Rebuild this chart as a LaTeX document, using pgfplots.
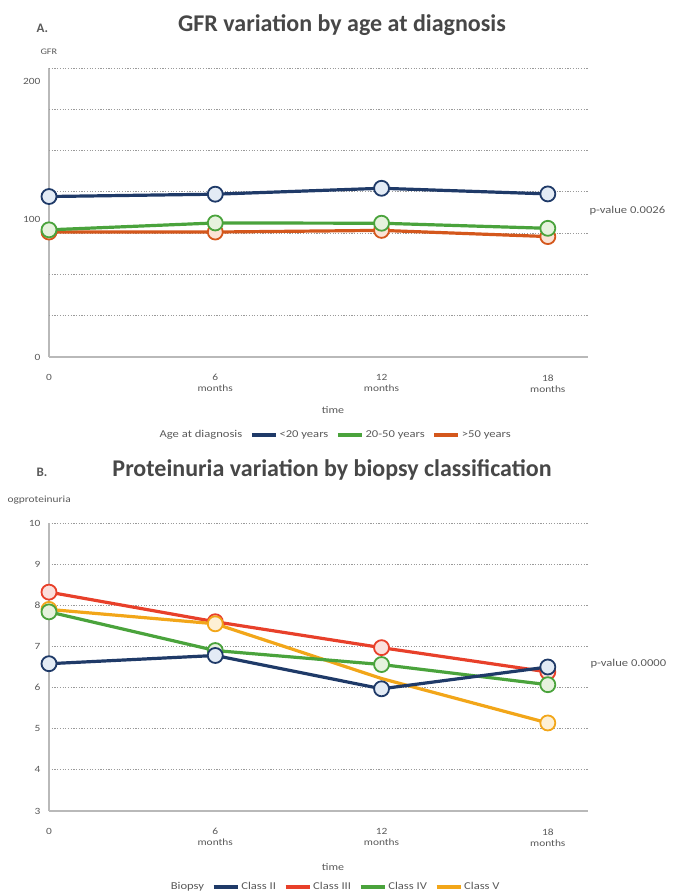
\documentclass[border=0pt]{standalone}
\usepackage{pgfplots}
\pgfplotsset{compat=1.18}
\usepackage{fontspec}
\setmainfont{Carlito}
\newfontfamily\wfont[FakeStretch=1.2]{Carlito}

\definecolor{navy}{HTML}{1F3A68}
\definecolor{navyfill}{HTML}{E3EBF5}
\definecolor{grnA}{HTML}{4AA33C}
\definecolor{grnfill}{HTML}{E6F2DD}
\definecolor{orgA}{HTML}{D4571C}
\definecolor{orgfill}{HTML}{FBE3D6}
\definecolor{redB}{HTML}{E8402A}
\definecolor{redfill}{HTML}{FBE0DC}
\definecolor{yelB}{HTML}{F2A619}
\definecolor{yelfill}{HTML}{FDF0D5}
\definecolor{txt}{HTML}{595959}
\definecolor{gridc}{HTML}{9A9A9A}

\pgfplotsset{
  panel/.style={
    scale only axis, width=539pt,
    xmin=0, xmax=19.45,
    axis x line=bottom, axis y line=left,
    axis line style={-, draw=gray!55, line width=1.2pt},
    xtick={0,6,12,18},
    xticklabels={0\\\phantom{months}, 6\\months, 12\\months, 18\\months},
    xticklabel style={align=center, font=\wfont\fontsize{9.5}{11}\selectfont, text=txt, anchor=north, yshift=-14pt},
    yticklabel style={font=\wfont\fontsize{9.5}{11}\selectfont, text=txt, xshift=-5pt},
    major tick length=0pt,
    grid style={draw=gridc, dash pattern=on 1.2pt off 1.5pt, line width=0.9pt},
    clip=false,
    legend style={draw=none, fill=none, anchor=center, legend columns=-1,
      font=\wfont\fontsize{10.5}{12}\selectfont, text=txt,
      /tikz/every even column/.append style={column sep=6pt}},
    legend image code/.code={\draw[#1, line width=3.2pt] (0pt,0pt) -- (24pt,0pt);},
  },
  ser/.style n args={2}{#1, line width=3.2pt, mark=*, mark size=7.5pt,
    mark options={fill=#2, draw=#1, line width=1.8pt, solid}},
}

\begin{document}
\begin{tikzpicture}
\path[use as bounding box] (0pt,0pt) rectangle (675pt,892pt);

% ---------- Panel A ----------
\node[anchor=west, font=\bfseries\fontsize{13}{15}\selectfont, text=txt] at (33pt,864pt) {A.};
\node[font=\bfseries\fontsize{24}{28}\selectfont, text=black!72] at (342pt,867pt) {GFR variation by age at diagnosis};
\node[anchor=west, font=\wfont\fontsize{8.5}{10}\selectfont, text=txt] at (37pt,840pt) {GFR};

\begin{axis}[panel, at={(49pt,535pt)}, anchor=south west, height=289pt,
    ymin=0, ymax=210, ytick={0,100,200}, yticklabels={0,100,200},
    extra y ticks={30,60,90,120,150,180,210}, extra y tick labels={},
    extra y tick style={ymajorgrids=true},
    legend style={at={(0.531,-0.27)}}]
  \addlegendimage{empty legend}
  \addlegendentry{Age at diagnosis\hspace{16pt}}
  \addlegendimage{navy}
  \addlegendentry{<20 years}
  \addlegendimage{grnA}
  \addlegendentry{20-50 years}
  \addlegendimage{orgA}
  \addlegendentry{>50 years}

  \addplot[ser={orgA}{orgfill}, forget plot] coordinates {(0,90.8) (6,90.8) (12,92.0) (18,87.5)};
  \addplot[ser={grnA}{grnfill}, forget plot] coordinates {(0,92.4) (6,97.4) (12,97.2) (18,93.5)};
  \addplot[ser={navy}{navyfill}, forget plot] coordinates {(0,116.6) (6,118.3) (12,122.6) (18,118.5)};
\end{axis}
\node[font=\wfont\fontsize{10}{12}\selectfont, text=txt] at (333pt,482pt) {time};
\node[anchor=west, font=\wfont\fontsize{10.5}{12}\selectfont, text=txt] at (586pt,681pt) {p-value 0.0026};

% ---------- Panel B ----------
\node[anchor=west, font=\bfseries\fontsize{13}{15}\selectfont, text=txt] at (33pt,420pt) {B.};
\node[font=\bfseries\fontsize{24}{28}\selectfont, text=black!72] at (332pt,422pt) {Proteinuria variation by biopsy classification};
\node[anchor=west, font=\wfont\fontsize{9.5}{11}\selectfont, text=txt] at (4pt,392pt) {ogproteinuria};

\begin{axis}[panel, at={(49pt,81pt)}, anchor=south west, height=288pt,
    ymin=3, ymax=10, ytick={3,4,5,6,7,8,9,10}, yticklabels={3,4,5,6,7,8,9,10},
    ymajorgrids=true,
    legend style={at={(0.531,-0.264)}}]
  \addlegendimage{empty legend}
  \addlegendentry{Biopsy\hspace{14pt}}
  \addlegendimage{navy}
  \addlegendentry{Class II}
  \addlegendimage{redB}
  \addlegendentry{Class III}
  \addlegendimage{grnA}
  \addlegendentry{Class IV}
  \addlegendimage{yelB}
  \addlegendentry{Class V}

  \addplot[ser={redB}{redfill}, forget plot] coordinates {(0,8.32) (6,7.60) (12,6.97) (18,6.38)};
  \addplot[ser={yelB}{yelfill}, mark indices={1,2,4}, forget plot] coordinates {(0,7.90) (6,7.55) (12,6.22) (18,5.14)};
  \addplot[ser={grnA}{grnfill}, forget plot] coordinates {(0,7.84) (6,6.90) (12,6.56) (18,6.07)};
  \addplot[ser={navy}{navyfill}, forget plot] coordinates {(0,6.58) (6,6.78) (12,5.97) (18,6.50)};
\end{axis}
\node[font=\wfont\fontsize{10}{12}\selectfont, text=txt] at (333pt,25pt) {time};
\node[anchor=west, font=\wfont\fontsize{10.5}{12}\selectfont, text=txt] at (587pt,228pt) {p-value 0.0000};
\end{tikzpicture}
\end{document}
